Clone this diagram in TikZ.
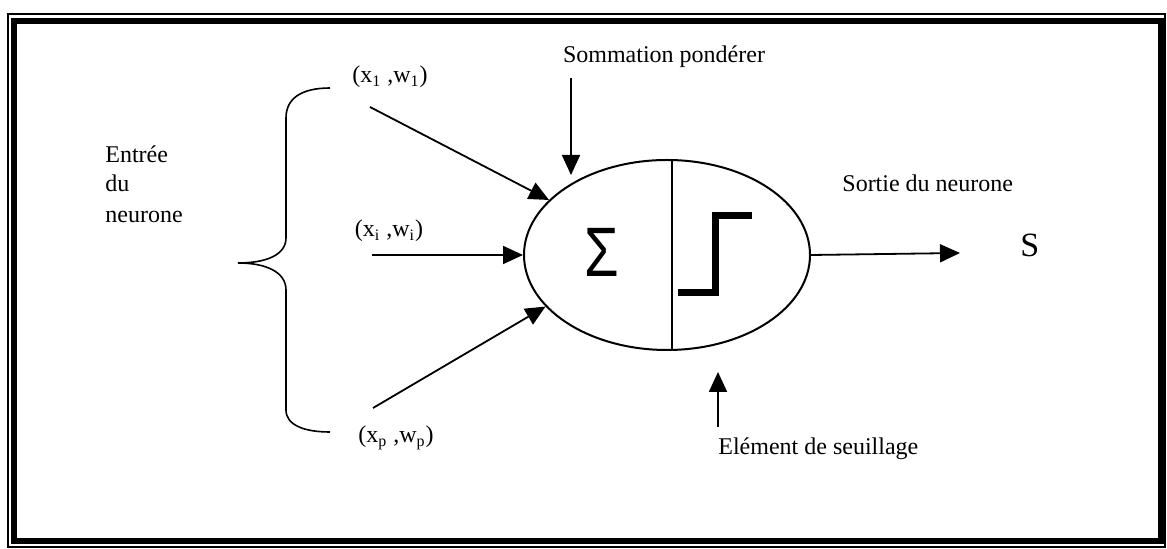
\documentclass[tikz,border=0pt]{standalone}
\usepackage{fontspec}
\setmainfont{Liberation Serif}
\newfontfamily\sigfont{Liberation Sans}
\usetikzlibrary{positioning,arrows.meta,shapes.geometric}

\begin{document}
\begin{tikzpicture}[x=0.5pt, y=-0.5pt, arr/.style={-{Triangle[length=10pt, width=9pt]}, line width=0.9pt}, lab/.style={font=\fontsize{12}{15}\selectfont, inner sep=0pt}]
\useasboundingbox (0,0) rectangle (1167,549);
% frame (thin outside, thick inside)
\draw[line width=0.7pt] (8,14) rectangle (1165,547);
\draw[line width=3pt] (13.5,21.5) rectangle (1160.5,541.5);
% neuron body
\node[ellipse, draw, line width=1pt, minimum width=143pt, minimum height=95pt, inner sep=0pt] (neur) at (667,255) {};
\draw[line width=0.8pt] (672,160) -- (672,350);
\node[font=\sigfont\fontsize{35}{35}\selectfont, xscale=0.8, inner sep=0pt] (sig) at (602,252) {Σ};
\draw[line width=3.5pt] (678,293) -- (715,293) -- (715,216) -- (752,216);
% inputs
\node[lab, anchor=base] (xa) at (390,83) {(x\textsubscript{1} ,w\textsubscript{1})};
\node[lab, anchor=base] (xb) at (389,237) {(x\textsubscript{i} ,w\textsubscript{i})};
\node[lab, anchor=base] (xc) at (396,443) {(x\textsubscript{p} ,w\textsubscript{p})};
\coordinate (ina) at (370,107);
\coordinate (inb) at (372,255);
\coordinate (inc) at (373,408);
\draw[arr] (ina) -- (neur.155);
\draw[arr] (inb) -- (neur.west);
\draw[arr] (inc) -- (neur.203);
% brace and its label
\draw[line width=0.8pt] (330,88) .. controls (302,88) and (286,98) .. (286,118) -- (286,238)
  .. controls (286,255) and (266,263) .. (238,263)
  .. controls (266,263) and (286,272) .. (286,290) -- (286,410)
  .. controls (286,425) and (304,432) .. (330,432);
\node[lab, anchor=base west] (enta) at (105,163) {Entrée};
\node[lab, anchor=base west] (entb) at (105,192) {du};
\node[lab, anchor=base west] (entc) at (105,223) {neurone};
% weighted sum
\node[lab, anchor=base] (somm) at (664,63) {Sommation pondérer};
\coordinate (sa) at (571,78);
\coordinate (sb) at (571,175);
\draw[arr] (sa) -- (sb);
% threshold
\node[lab, anchor=base west] (seuil) at (718,455) {Elément de seuillage};
\coordinate (ea) at (718,427);
\coordinate (eb) at (718,372);
\draw[arr] (ea) -- (eb);
% output
\node[lab, anchor=base west] (sort) at (842,192) {Sortie du neurone};
\coordinate (out) at (960,253);
\draw[arr] (neur.east) -- (out);
\node[lab, font=\fontsize{17}{20}\selectfont, anchor=base west] (s) at (1020,257) {S};
\end{tikzpicture}
\end{document}
